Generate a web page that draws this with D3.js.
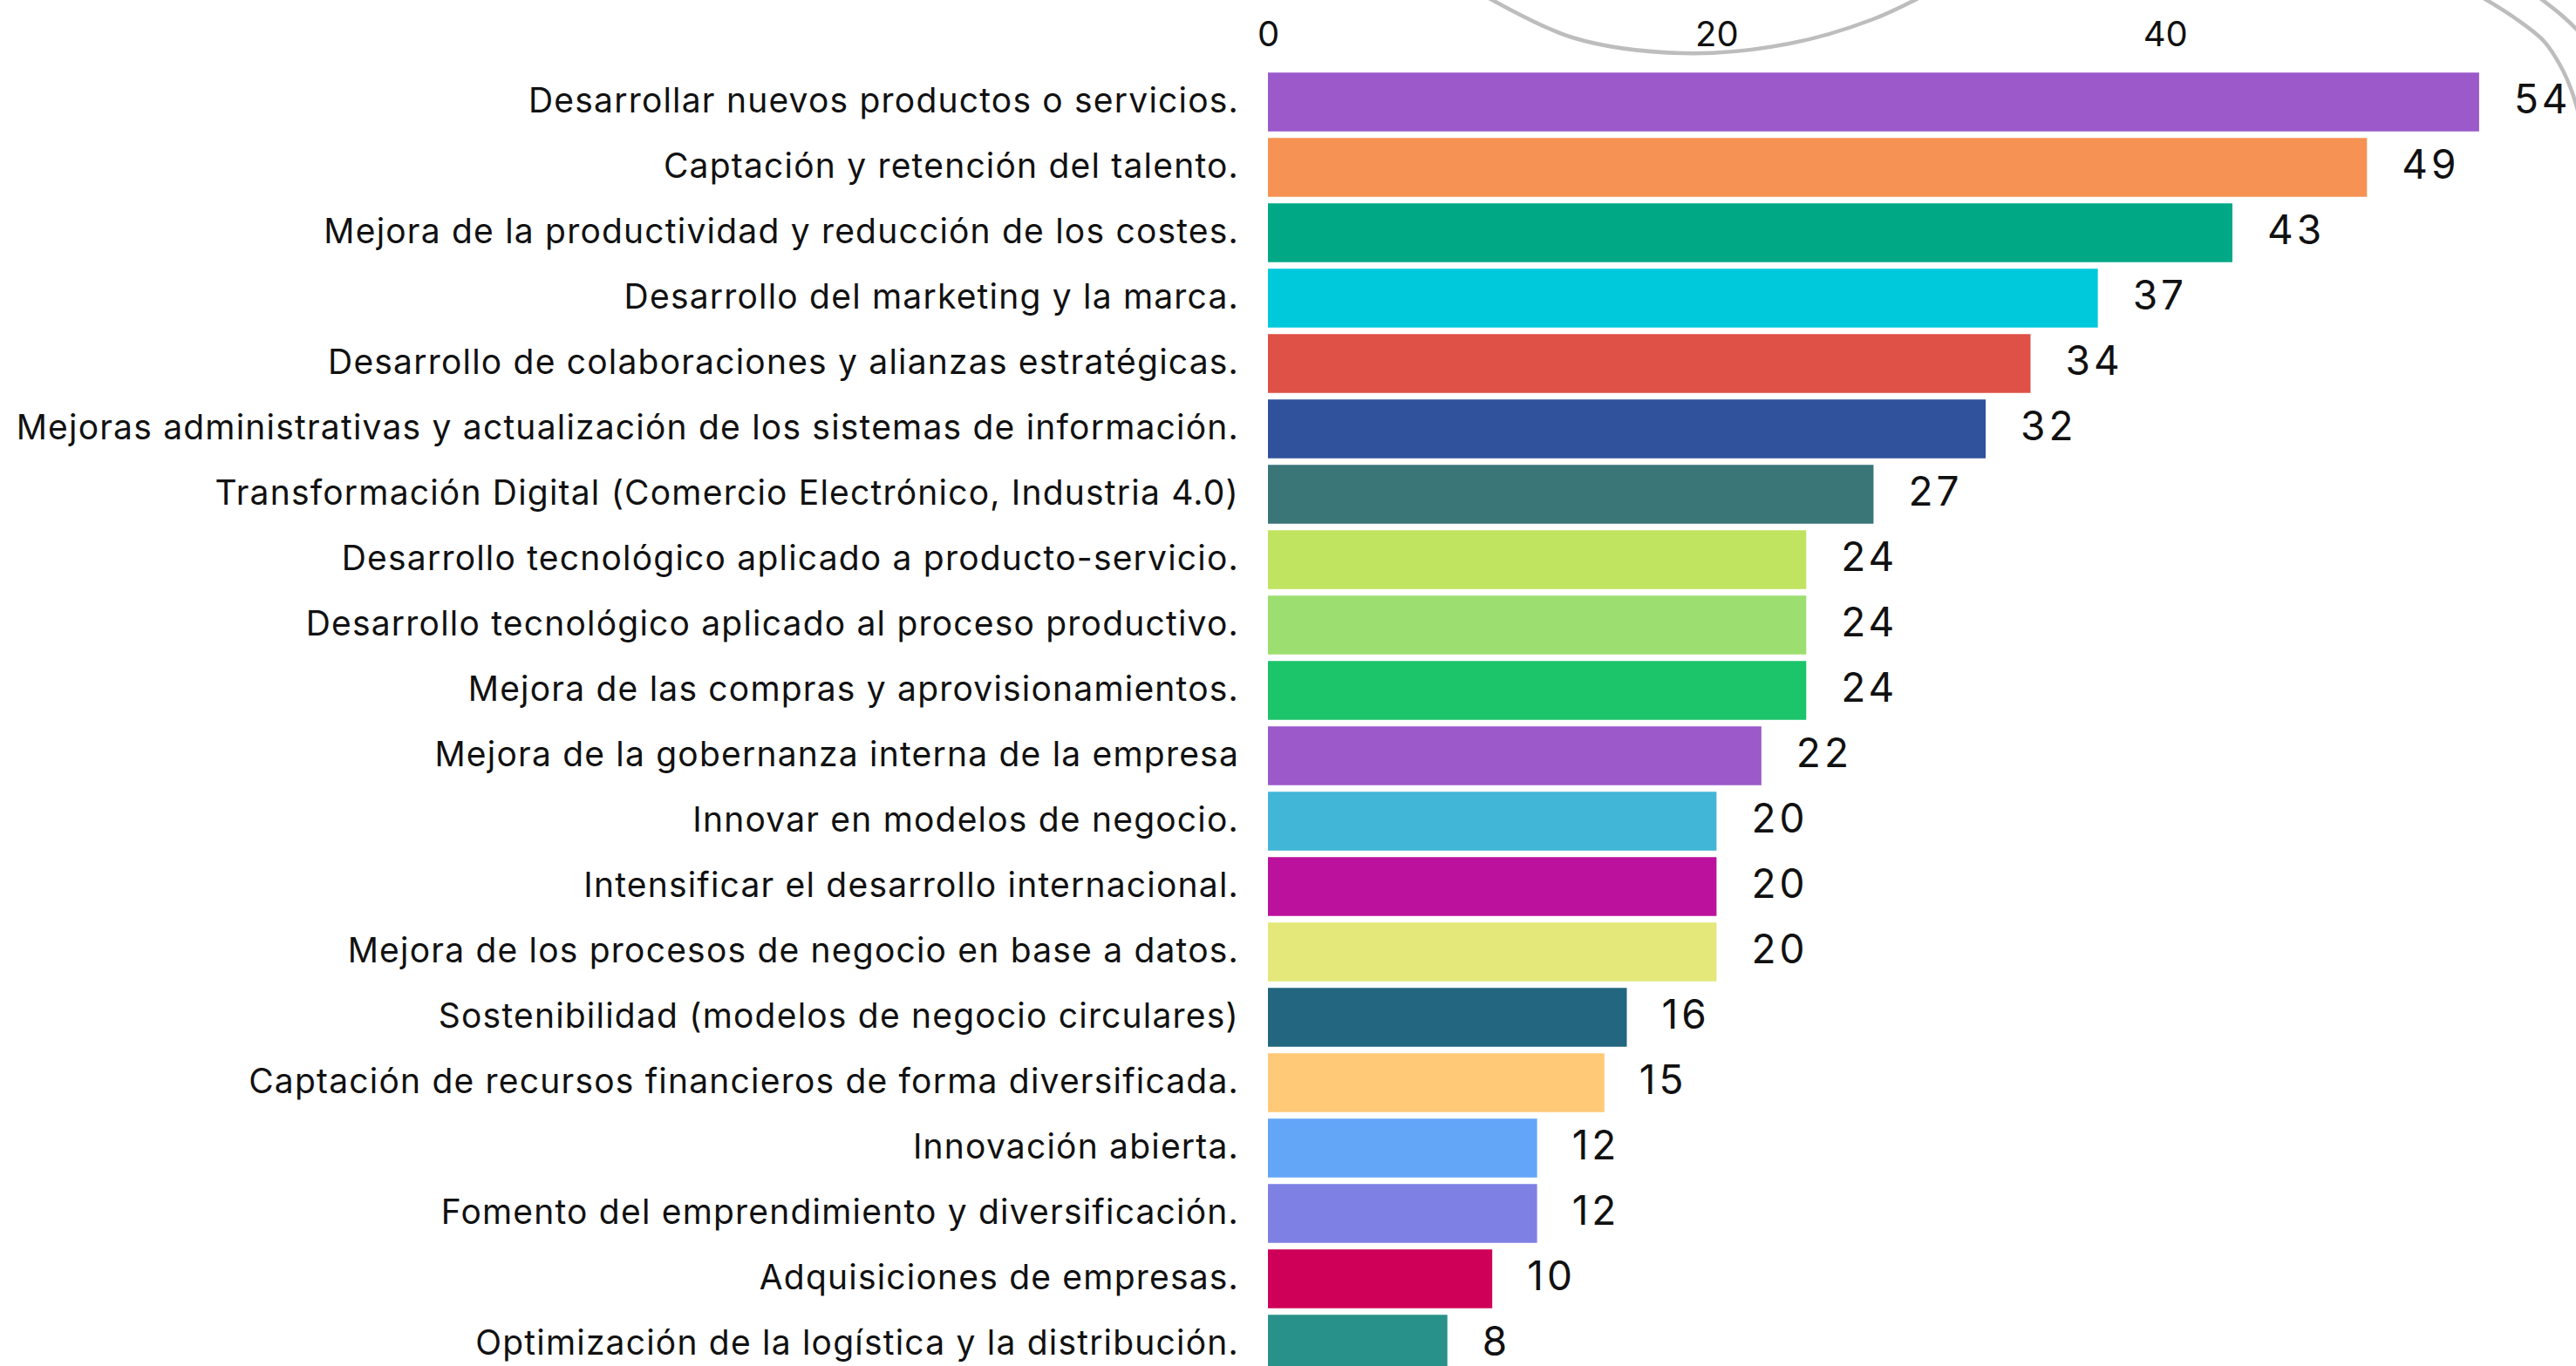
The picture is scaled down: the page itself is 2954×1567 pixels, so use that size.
<!DOCTYPE html>
<html>
<head>
<meta charset="utf-8">
<script src="https://cdn.jsdelivr.net/npm/d3@7"></script>
<style>
  html, body { margin: 0; padding: 0; background: #fff; }
  svg { display: block; }
</style>
</head>
<body>
<div id="bar_chart"></div>
<script>
// data
var categories = [
    "Desarrollar nuevos productos o servicios.",
    "Captación y retención del talento.",
    "Mejora de la productividad y reducción de los costes.",
    "Desarrollo del marketing y la marca.",
    "Desarrollo de colaboraciones y alianzas estratégicas.",
    "Mejoras administrativas y actualización de los sistemas de información.",
    "Transformación Digital (Comercio Electrónico, Industria 4.0)",
    "Desarrollo tecnológico aplicado a producto-servicio.",
    "Desarrollo tecnológico aplicado al proceso productivo.",
    "Mejora de las compras y aprovisionamientos.",
    "Mejora de la gobernanza interna de la empresa",
    "Innovar en modelos de negocio.",
    "Intensificar el desarrollo internacional.",
    "Mejora de los procesos de negocio en base a datos.",
    "Sostenibilidad (modelos de negocio circulares)",
    "Captación de recursos financieros de forma diversificada.",
    "Innovación abierta.",
    "Fomento del emprendimiento y diversificación.",
    "Adquisiciones de empresas.",
    "Optimización de la logística y la distribución."
];
var values = [54, 49, 43, 37, 34, 32, 27, 24, 24, 24, 22, 20, 20, 20, 16, 15, 12, 12, 10, 8];
var barColors = [
    "#9b59ca", "#f69253", "#00a886", "#00c9dc", "#df5047",
    "#30529c", "#3a7578", "#c0e360", "#9cdf70", "#1cc46a",
    "#9b59ca", "#42b6d6", "#bc119c", "#e4e77a", "#226680",
    "#ffc977", "#63a5f7", "#7f80e4", "#ce0058", "#28928a"
];
var tickValues = [0, 20, 40];

function barChart(id) {
    var W = 2954, H = 1567;
    var margin = {top: 79.5, left: 1454},
        width = 54 * 25.72,
        height = 1500;

    var svg = d3.select("#" + id)
        .html("")
        .append("svg")
        .attr("width", W)
        .attr("height", H);

    // grey decorative swirls behind the axis
    var swirl = d3.line().curve(d3.curveCatmullRom);
    var deco = svg.append("g")
        .attr("fill", "none")
        .attr("stroke", "#bdbdbd")
        .attr("stroke-width", 4.5)
        .attr("stroke-linecap", "round");
    deco.append("path").attr("d", swirl([[1690, -12], [1803, 43], [1930, 61], [2052, 50], [2148, 22], [2215, -10]]));
    deco.append("path").attr("d", swirl([[2838, -8], [2883, 20], [2917, 47], [2937, 77], [2950, 107], [2962, 150]]));
    deco.append("path").attr("d", swirl([[2905, -8], [2937, 17], [2954, 33], [2965, 45]]));

    var g = svg.append("g")
        .attr("transform", "translate(" + margin.left + "," + margin.top + ")");

    var x = d3.scaleLinear()
        .domain([0, 54])
        .range([0, width]);

    var y = d3.scaleBand()
        .domain(categories)
        .range([0, height])
        .paddingInner(0.1)
        .paddingOuter(0.05);

    var xAxis = g.append("g")
        .attr("transform", "translate(0," + (53 - margin.top) + ")")
        .call(d3.axisTop(x).tickValues(tickValues).tickSize(0).tickPadding(0));
    xAxis.select(".domain").remove();
    xAxis.selectAll("text")
        .attr("y", 0)
        .attr("dy", 0)
        .style("font-family", "Inter, 'Open Sans', sans-serif")
        .style("font-size", "40px")
        .style("fill", "#111");

    g.selectAll(".bar")
        .data(values)
        .enter().append("rect")
        .attr("class", "bar")
        .attr("x", x(0))
        .attr("y", (d, i) => y(categories[i]))
        .attr("width", d => x(d) - x(0))
        .attr("height", y.bandwidth())
        .attr("fill", (d, i) => barColors[i]);

    g.selectAll(".cat")
        .data(categories)
        .enter().append("text")
        .attr("class", "cat")
        .attr("x", -33)
        .attr("y", d => y(d) + y.bandwidth() / 2)
        .attr("dy", "0.3em")
        .attr("text-anchor", "end")
        .style("font-family", "Inter, 'Open Sans', sans-serif")
        .style("font-size", "39px")
        .style("letter-spacing", "1.2px")
        .style("fill", "#111")
        .text(d => d);

    g.selectAll(".val")
        .data(values)
        .enter().append("text")
        .attr("class", "val")
        .attr("x", d => x(d) + 40)
        .attr("y", (d, i) => y(categories[i]) + y.bandwidth() / 2 + 13)
        .style("font-family", "Inter, 'Open Sans', sans-serif")
        .style("font-size", "46px")
        .style("letter-spacing", "4px")
        .style("fill", "#111")
        .text(d => d);
}

barChart("bar_chart");
</script>
</body>
</html>
